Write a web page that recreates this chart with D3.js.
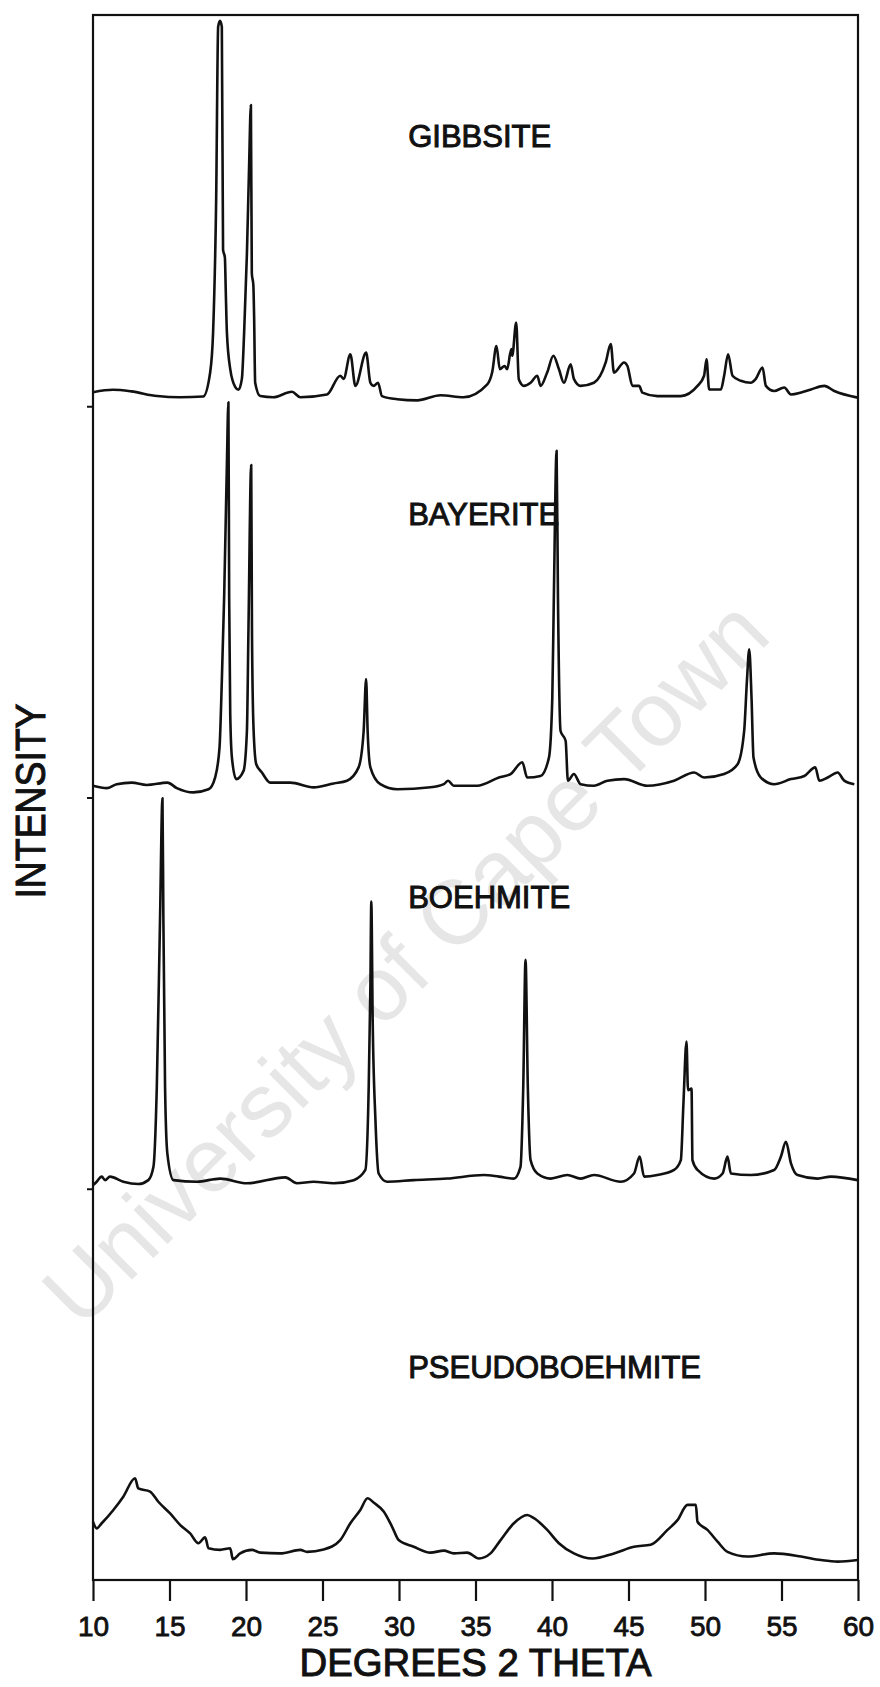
<!DOCTYPE html>
<html>
<head>
<meta charset="utf-8">
<script src="https://cdn.jsdelivr.net/npm/d3@7"></script>
<style>
  html, body { margin: 0; padding: 0; background: #fff; }
  svg { display: block; font-family: "Liberation Sans", Arial, Helvetica, sans-serif; }
</style>
</head>
<body>
<svg id="chart"></svg>
<script>
'use strict';

// x ticks (degrees 2 theta)
const thetaTicks = [10, 15, 20, 25, 30, 35, 40, 45, 50, 55, 60];

// trace names, top to bottom, and the vertical offset of each trace
const names = ["GIBBSITE", "BAYERITE", "BOEHMITE", "PSEUDOBOEHMITE"];
const offsets = [300, 200, 100, 0];

// [2theta, intensity]
const gibbsite = [
  [10.0, 3.6], [11.3, 4.2], [12.5, 3.8], [14.2, 2.6], [15.7, 2.3], [17.2, 2.5], [17.66, 8.7],
  [17.85, 19], [18.05, 53], [18.18, 97], [18.3, 98.5], [18.42, 97], [18.5, 40], [18.62, 38],
  [18.68, 29], [18.75, 19], [18.97, 9.5], [19.3, 4.9], [19.51, 4.2], [19.73, 7], [19.88, 19],
  [20.06, 39], [20.2, 61], [20.32, 77], [20.38, 34], [20.48, 31], [20.53, 23], [20.6, 6],
  [20.93, 2.6], [21.78, 2.3], [23.0, 3.7], [23.55, 2.3], [25.29, 3], [26.16, 7.8], [26.38, 7],
  [26.82, 13.3], [27.15, 5.2], [27.85, 13.7], [28.13, 6], [28.34, 5.2], [28.63, 6], [28.89, 2.6],
  [29.88, 1.8], [31.19, 1.5], [32.71, 2.8], [34.21, 2.3], [35.77, 5.6], [36.09, 8.7], [36.37, 15.4],
  [36.59, 9.5], [36.9, 10.3], [37.07, 9.5], [37.34, 14.6], [37.4, 12.9], [37.66, 21.4], [37.83, 6.9],
  [38.16, 5.2], [38.6, 6], [39.04, 7.8], [39.25, 5.2], [39.69, 8.7], [40.09, 12.9], [40.45, 9.5],
  [40.78, 6], [41.22, 10.7], [41.43, 7], [41.87, 5.2], [42.74, 6], [43.51, 11.2], [43.84, 15.9],
  [44.05, 8.6], [44.71, 11.2], [44.93, 10.3], [45.26, 5.2], [45.69, 5.2], [45.91, 3.5], [46.89, 2.6],
  [48.41, 2.6], [49.51, 5.2], [49.94, 7.8], [50.1, 12], [50.27, 4.3], [51.04, 4.3], [51.25, 7.8],
  [51.51, 13.3], [51.8, 7.8], [52.34, 6.5], [52.99, 6], [53.32, 7], [53.76, 9.9], [53.98, 5.2],
  [54.52, 3.9], [55.18, 4.8], [55.62, 3], [56.28, 3.5], [56.93, 4.3], [57.8, 5.2], [58.45, 3.9],
  [59.98, 2.2]
];

const bayerite = [
  [10.0, 3.0], [10.9, 2.4], [11.55, 3.4], [12.53, 3.8], [13.51, 3.2], [14.86, 3.8], [15.48, 2.4],
  [16.56, 1.3], [17.55, 2.1], [17.98, 5.1], [18.27, 12.8], [18.42, 29.8], [18.57, 51], [18.75, 85],
  [18.85, 101], [18.9, 51], [18.97, 21.3], [19.08, 10.2], [19.36, 4.7], [19.84, 6.8], [20.06, 17],
  [20.16, 42.7], [20.34, 85], [20.39, 42.7], [20.49, 17.9], [20.67, 8.5], [21.04, 6.4], [21.58, 3.8],
  [22.89, 3.8], [24.42, 2.6], [25.73, 3.6], [26.6, 4.3], [27.36, 7.7], [27.69, 17], [27.85, 30.3],
  [27.95, 17], [28.13, 7.7], [28.78, 3.4], [29.88, 2.1], [32.06, 2.6], [32.93, 3.4], [33.21, 4.3],
  [33.58, 3.0], [35.11, 3.0], [36.53, 5.1], [37.29, 6.0], [38.06, 9.0], [38.38, 5.1], [39.25, 5.5],
  [39.8, 10.2], [40.02, 25.6], [40.12, 51], [40.3, 88.6], [40.39, 51], [40.56, 17], [40.89, 14.5],
  [41.04, 4.3], [41.43, 6.0], [41.87, 3.4], [42.74, 3.0], [43.62, 4.3], [44.71, 4.7], [46.24, 3.0],
  [47.98, 4.3], [49.29, 6.4], [49.94, 5.1], [51.25, 6.0], [52.13, 8.5], [52.56, 17], [52.74, 29.8],
  [52.89, 37.9], [53.04, 25.6], [53.17, 10.2], [53.65, 5.1], [54.52, 3.4], [55.62, 4.7], [56.49, 5.5],
  [57.21, 7.7], [57.47, 4.3], [58.02, 5.1], [58.67, 6.4], [59.1, 4.3], [59.76, 3.4]
];

const boehmite = [
  [10.0, 0.9], [10.24, 1.8], [10.57, 3.1], [10.79, 2.2], [11.11, 3.1], [11.98, 1.8], [12.96, 1.2],
  [13.62, 2.2], [13.95, 5.6], [14.17, 26], [14.38, 68.7], [14.54, 99.8], [14.6, 68.7], [14.71, 26],
  [14.86, 9], [15.26, 2.2], [16.79, 1.8], [18.31, 2.6], [20.06, 1.4], [22.57, 2.9], [23.33, 1.4],
  [24.42, 1.8], [25.73, 1.4], [27.04, 2.2], [27.8, 4.8], [28.02, 26], [28.13, 51.7], [28.19, 73.4],
  [28.28, 43], [28.46, 17.6], [28.67, 3.9], [29.22, 1.8], [30.96, 2.2], [33.15, 2.6], [35.54, 3.5],
  [36.53, 3.1], [37.51, 2.6], [37.94, 5.6], [38.12, 26], [38.27, 58.5], [38.42, 26], [38.6, 7.3],
  [39.04, 3.9], [39.91, 2.6], [41.0, 3.5], [41.87, 2.6], [42.74, 3.5], [44.49, 1.8], [45.36, 3.9],
  [45.73, 8.2], [46.02, 3.1], [46.89, 3.5], [47.98, 4.8], [48.42, 7.3], [48.59, 21.8], [48.79, 37.6],
  [48.89, 25.2], [49.12, 25.6], [49.18, 7.3], [49.51, 4.8], [50.6, 2.6], [51.15, 3.9], [51.47, 8.2],
  [51.69, 3.9], [53.0, 3.5], [54.52, 4.8], [54.96, 8.2], [55.29, 12], [55.62, 6.5], [56.05, 3.5],
  [57.36, 2.6], [58.23, 3.1], [59.98, 2.2]
];

const pseudoboehmite = [
  [10.0, 14.9], [10.24, 13.2], [10.57, 14.5], [11.33, 17.9], [11.98, 21.3], [12.75, 26], [12.96, 23.4],
  [13.73, 22.6], [14.27, 20], [15.04, 17], [15.69, 14.1], [16.35, 11.9], [16.89, 9.4], [17.33, 10.9],
  [17.55, 8.1], [18.31, 7.7], [18.97, 8.1], [19.14, 5.3], [19.62, 6.8], [20.39, 7.7], [20.93, 7.0],
  [22.24, 6.8], [23.55, 7.7], [23.99, 7.2], [25.07, 7.8], [26.16, 10.2], [26.82, 14.5], [27.47, 17.9],
  [27.95, 20.9], [28.34, 19.8], [29.0, 17.5], [29.55, 13.6], [29.98, 10.2], [30.96, 8.5], [32.06, 7.0],
  [32.93, 7.5], [33.58, 6.8], [34.46, 7.0], [35.22, 5.5], [35.98, 6.8], [36.64, 10.2], [37.51, 14.5],
  [38.38, 16.6], [38.82, 15.8], [39.69, 12.8], [40.45, 9.4], [41.43, 6.8], [42.64, 5.5], [44.05, 6.8],
  [45.36, 8.5], [46.45, 9.0], [47.55, 12.8], [48.2, 15.3], [48.86, 19.2], [49.4, 19.2], [49.51, 14.9],
  [50.16, 12.8], [50.82, 9.8], [51.47, 7.2], [52.78, 6.0], [54.52, 6.8], [56.28, 6.0], [57.58, 5.1],
  [58.67, 4.7], [59.98, 5.1]
];

const series = [gibbsite, bayerite, boehmite, pseudoboehmite];

const width = 880, height = 1687;
const plotL = 93, plotR = 858, plotT = 15, plotB = 1580;

const svg = d3.select("#chart")
  .attr("width", width)
  .attr("height", height);

const x = d3.scaleLinear().domain([10, 60]).range([plotL, plotR]);
const y = d3.scaleLinear().domain([0, 400]).range([plotB, plotT]);

// faint watermark behind everything
svg.append("text")
  .attr("transform", "translate(405,962) rotate(-45)")
  .attr("text-anchor", "middle")
  .attr("dominant-baseline", "central")
  .style("font-size", "91px")
  .style("fill", "#e6e6e6")
  .text("University of Cape Town");

// frame
svg.append("rect")
  .attr("x", plotL)
  .attr("y", plotT)
  .attr("width", plotR - plotL)
  .attr("height", plotB - plotT)
  .attr("fill", "none")
  .attr("stroke", "#111")
  .attr("stroke-width", 2.2);

// bottom axis
const xAxis = svg.append("g")
  .attr("transform", `translate(0,${plotB})`)
  .call(d3.axisBottom(x).tickValues(thetaTicks).tickSize(21).tickSizeOuter(0).tickPadding(15).tickFormat(d3.format("d")));
xAxis.select(".domain").remove();
xAxis.selectAll("line").attr("stroke", "#111").attr("stroke-width", 2.2);
xAxis.selectAll("text")
  .style("font-size", "28px")
  .style("font-family", "'Liberation Sans', Arial, sans-serif")
  .attr("fill", "#111")
  .attr("stroke", "#111")
  .attr("stroke-width", 0.8);

// left axis: one short mark at each trace baseline
const yAxis = svg.append("g")
  .attr("transform", `translate(${plotL},0)`)
  .call(d3.axisLeft(y).tickValues(offsets.filter(d => d > 0)).tickSize(6).tickFormat(""));
yAxis.select(".domain").remove();
yAxis.selectAll("line").attr("stroke", "#111").attr("stroke-width", 2);

// traces
const line = d3.line()
  .curve(d3.curveMonotoneX)
  .x(d => x(d[0]))
  .y(d => y(d[1]));

series.forEach((s, i) => {
  svg.append("path")
    .datum(s.map(d => [d[0], d[1] + offsets[i]]))
    .attr("d", line)
    .attr("fill", "none")
    .attr("stroke", "#111")
    .attr("stroke-width", 2.6)
    .attr("stroke-linejoin", "round");
});

// trace names
const labelRise = [66.3, 69.6, 71.8, 51.6];
names.forEach((n, i) => {
  svg.append("text")
    .attr("x", x(30.6))
    .attr("y", y(offsets[i] + labelRise[i]))
    .style("font-size", "31px")
    .attr("fill", "#111")
    .attr("stroke", "#111")
    .attr("stroke-width", 1)
    .text(n);
});

// axis titles
svg.append("text")
  .attr("x", (plotL + plotR) / 2)
  .attr("y", 1676)
  .attr("text-anchor", "middle")
  .attr("textLength", 352)
  .attr("lengthAdjust", "spacingAndGlyphs")
  .style("font-size", "39px")
  .attr("fill", "#111")
  .attr("stroke", "#111")
  .attr("stroke-width", 1)
  .text("DEGREES 2 THETA");

svg.append("text")
  .attr("transform", "translate(45,801) rotate(-90)")
  .attr("text-anchor", "middle")
  .attr("textLength", 195)
  .attr("lengthAdjust", "spacingAndGlyphs")
  .style("font-size", "42px")
  .attr("fill", "#111")
  .attr("stroke", "#111")
  .attr("stroke-width", 1)
  .text("INTENSITY");
</script>
</body>
</html>
